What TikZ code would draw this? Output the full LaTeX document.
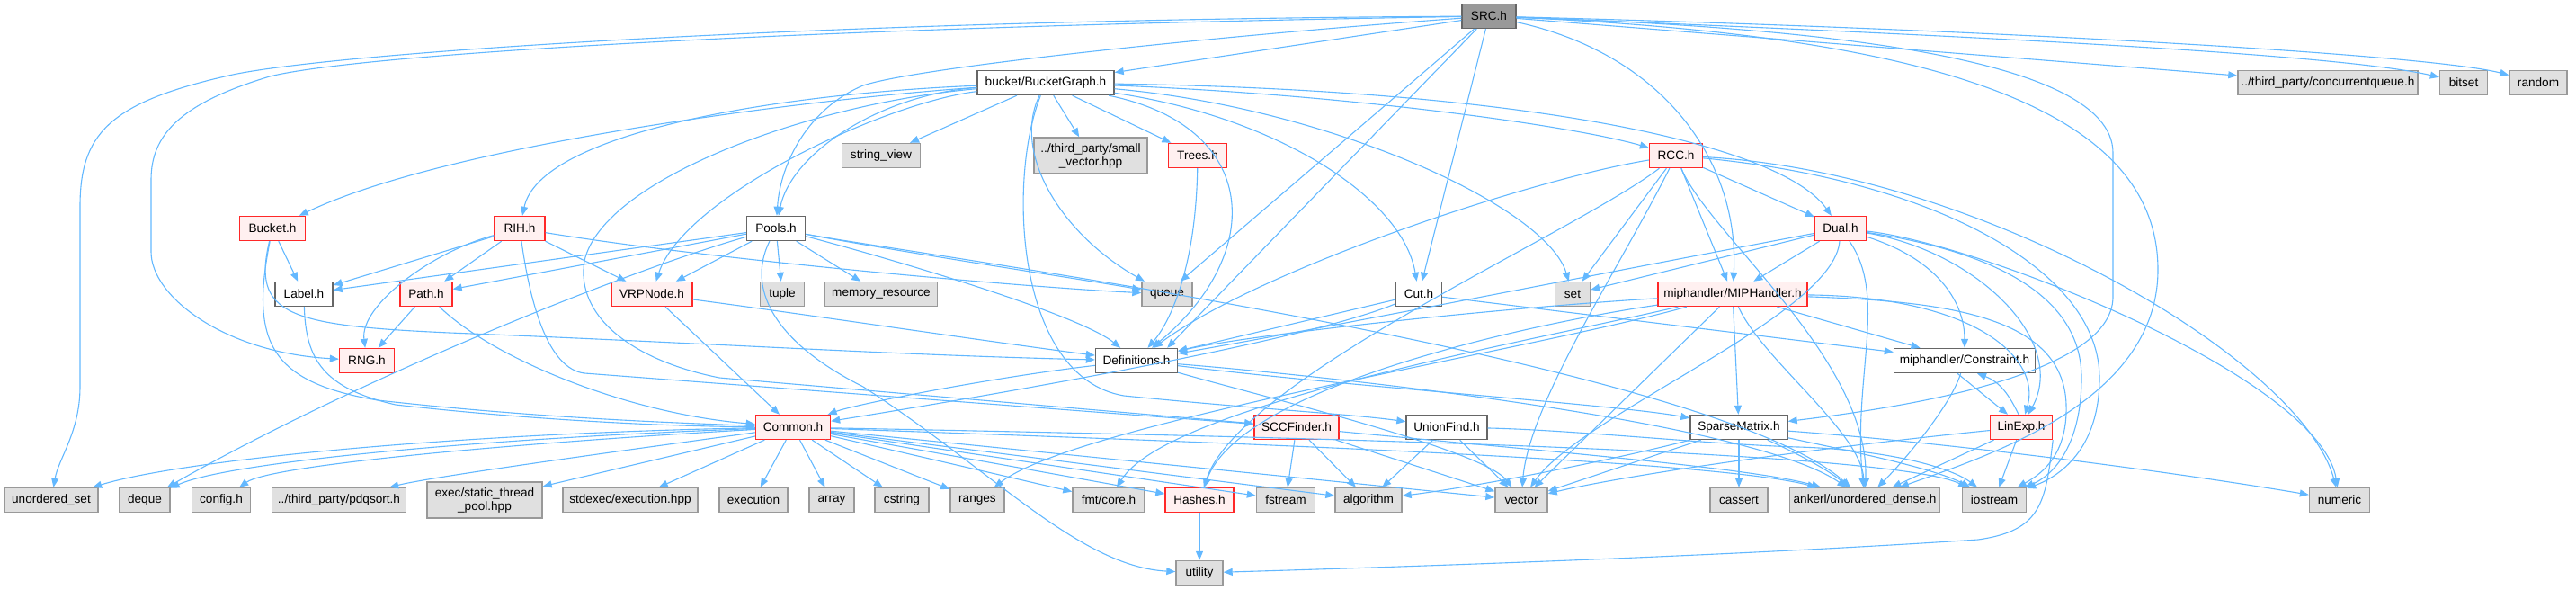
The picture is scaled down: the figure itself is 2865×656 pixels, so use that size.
\documentclass[tikz,border=0pt]{standalone}
\usepackage{fontspec}
\setmainfont{Liberation Sans}
\usetikzlibrary{arrows.meta}
\definecolor{edgeblue}{RGB}{99,184,255}
\definecolor{grfill}{RGB}{224,224,224}
\definecolor{grdraw}{RGB}{153,153,153}
\definecolor{rdfill}{RGB}{255,240,240}
\definecolor{rddraw}{RGB}{255,40,40}
\definecolor{whdraw}{RGB}{102,102,102}
\definecolor{srcfill}{RGB}{153,153,153}
\newcommand\fs{\fontsize{13.6}{15}\selectfont}
\tikzset{
 base/.style={rectangle, inner sep=0pt, minimum height=27pt, line width=1.4pt, font=\fs, align=center},
 gr/.style={base, fill=grfill, draw=grdraw},
 rd/.style={base, fill=rdfill, draw=rddraw},
 wh/.style={base, fill=white, draw=whdraw},
 srcbox/.style={base, fill=srcfill, draw=whdraw},
 e/.style={draw=edgeblue, line width=1.1pt, -{Triangle[length=10pt,width=8pt]}}
}
\begin{document}
\begin{tikzpicture}[x=1pt,y=-1pt]
\useasboundingbox (0,0) rectangle (2865,656);
% nodes
\node[srcbox, minimum width=60pt] (SRC) at (1656,18) {SRC.h};
\node[wh, minimum width=152pt] (BG) at (1163,92) {bucket/BucketGraph.h};
\node[gr, minimum width=200pt] (CQ) at (2589,92) {../third\_party/concurrentqueue.h};
\node[gr, minimum width=53pt] (bitset) at (2740,92) {bitset};
\node[gr, minimum width=64pt] (random) at (2823,92) {random};
\node[gr, minimum width=87pt] (stringview) at (980,173) {string\_view};
\node[gr, minimum width=126pt, minimum height=40pt] (smallvec) at (1213,173) {../third\_party/small\\\_vector.hpp};
\node[rd, minimum width=65pt] (Trees) at (1332,173) {Trees.h};
\node[rd, minimum width=59pt] (RCC) at (1864,173) {RCC.h};
\node[rd, minimum width=73pt] (Bucket) at (303,254) {Bucket.h};
\node[rd, minimum width=56pt] (RIH) at (578,254) {RIH.h};
\node[wh, minimum width=65pt] (Pools) at (863,254) {Pools.h};
\node[rd, minimum width=57pt] (Dual) at (2047,254) {Dual.h};
\node[wh, minimum width=64pt] (Label) at (338,327) {Label.h};
\node[rd, minimum width=58pt] (Path) at (474,327) {Path.h};
\node[rd, minimum width=90pt] (VRPNode) at (725,327) {VRPNode.h};
\node[gr, minimum width=49pt] (tuple) at (870,327) {tuple};
\node[gr, minimum width=125pt] (memres) at (980,327) {memory\_resource};
\node[gr, minimum width=56pt] (queue) at (1298,327) {queue};
\node[wh, minimum width=51pt] (Cut) at (1578,327) {Cut.h};
\node[gr, minimum width=39pt] (set) at (1749,327) {set};
\node[rd, minimum width=166pt] (MIP) at (1927,327) {miphandler/MIPHandler.h};
\node[rd, minimum width=61pt] (RNG) at (408,401) {RNG.h};
\node[wh, minimum width=91pt] (Defs) at (1264,401) {Definitions.h};
\node[wh, minimum width=157pt] (Constraint) at (2185,401) {miphandler/Constraint.h};
\node[rd, minimum width=83pt] (Common) at (882,475) {Common.h};
\node[rd, minimum width=94pt] (SCC) at (1442,475) {SCCFinder.h};
\node[wh, minimum width=90pt] (UF) at (1609,475) {UnionFind.h};
\node[wh, minimum width=108pt] (Sparse) at (1934,475) {SparseMatrix.h};
\node[rd, minimum width=69pt] (LinExp) at (2248,475) {LinExp.h};
\node[gr, minimum width=104pt] (uset) at (57,556) {unordered\_set};
\node[gr, minimum width=56pt] (deque) at (161,556) {deque};
\node[gr, minimum width=65pt] (config) at (246,556) {config.h};
\node[gr, minimum width=149pt] (pdqsort) at (377,556) {../third\_party/pdqsort.h};
\node[gr, minimum width=128pt, minimum height=40pt] (stp) at (539,556) {exec/static\_thread\\\_pool.hpp};
\node[gr, minimum width=150pt] (stdexec) at (701,556) {stdexec/execution.hpp};
\node[gr, minimum width=76pt] (execution) at (838,556) {execution};
\node[gr, minimum width=50pt] (array) at (925,556) {array};
\node[gr, minimum width=60pt] (cstring) at (1003,556) {cstring};
\node[gr, minimum width=60pt] (ranges) at (1087,556) {ranges};
\node[gr, minimum width=80pt] (fmt) at (1233,556) {fmt/core.h};
\node[rd, minimum width=76pt] (Hashes) at (1334,556) {Hashes.h};
\node[gr, minimum width=65pt] (fstream) at (1430,556) {fstream};
\node[gr, minimum width=74pt] (algorithm) at (1522,556) {algorithm};
\node[gr, minimum width=58pt] (vector) at (1692,556) {vector};
\node[gr, minimum width=64pt] (cassert) at (1934,556) {cassert};
\node[gr, minimum width=167pt] (ankerl) at (2074,556) {ankerl/unordered\_dense.h};
\node[gr, minimum width=71pt] (iostream) at (2218,556) {iostream};
\node[gr, minimum width=67pt] (numeric) at (2602,556) {numeric};
\node[gr, minimum width=52pt] (utility) at (1334,637) {utility};
% SRC edges
\draw[e] (SRC) -- (BG);
\draw[e] (SRC) -- (CQ);
\draw[e] (SRC) .. controls (2200,40) and (2600,60) .. (bitset);
\draw[e] (SRC) .. controls (2200,32) and (2700,60) .. (random);
\draw[e] (SRC) .. controls (900,22) and (350,60) .. (250,85) .. controls (120,115) and (89,150) .. (89,230) -- (89,430) .. controls (89,480) and (65,510) .. (uset);
\draw[e] (SRC) .. controls (900,30) and (400,60) .. (300,85) .. controls (200,115) and (168,150) .. (168,200) -- (168,280) .. controls (168,330) and (250,392) .. (RNG);
\draw[e] (SRC) .. controls (1350,40) and (1020,75) .. (960,95) .. controls (900,120) and (868,180) .. (Pools);
\draw[e] (SRC) -- ([xshift=-14pt]queue.north east);
\draw[e] (SRC) -- ([xshift=-12pt]Defs.north east);
\draw[e] (SRC) -- (Cut);
\draw[e] (SRC) .. controls (1850,60) and (1935,180) .. (MIP);
\draw[e] (SRC) .. controls (2000,30) and (2350,60) .. (2350,170) -- (2350,330) .. controls (2350,420) and (2100,455) .. (Sparse);
\draw[e] (SRC) .. controls (2150,40) and (2400,120) .. (2400,300) .. controls (2400,450) and (2200,510) .. (ankerl);
% BucketGraph edges
\draw[e] (BG) .. controls (900,110) and (500,160) .. (Bucket);
\draw[e] (BG) .. controls (850,105) and (600,150) .. (RIH);
\draw[e] (BG) .. controls (980,105) and (880,170) .. (Pools);
\draw[e] (BG) .. controls (980,115) and (760,220) .. (VRPNode);
\draw[e] (BG) -- (stringview);
\draw[e] (BG) -- (smallvec);
\draw[e] (BG) -- (Trees);
\draw[e] (BG) .. controls (1125,170) and (1180,260) .. (queue);
\draw[e] (BG) .. controls (1120,200) and (1130,420) .. (1250,440) .. controls (1400,455) and (1500,460) .. (UF);
\draw[e] (BG) .. controls (1400,140) and (1410,280) .. (Defs);
\draw[e] (BG) .. controls (1420,130) and (1560,220) .. (Cut);
\draw[e] (BG) .. controls (1480,120) and (1720,230) .. (set);
\draw[e] (BG) .. controls (1500,105) and (1750,140) .. (RCC);
\draw[e] (BG) .. controls (1700,100) and (1980,160) .. (Dual);
\draw[e] (BG) .. controls (900,115) and (670,200) .. (650,290) .. controls (640,350) and (700,400) .. (800,420) -- (SCC);
% RCC edges
\draw[e] (RCC) .. controls (1700,200) and (1400,300) .. (Defs);
\draw[e] (RCC) -- (set);
\draw[e] (RCC) -- (MIP);
\draw[e] (RCC) -- (Dual);
\draw[e] (RCC) .. controls (1750,260) and (1380,420) .. (Hashes);
\draw[e] (RCC) .. controls (1800,300) and (1700,450) .. (vector);
\draw[e] (RCC) .. controls (1900,260) and (2080,400) .. (ankerl);
\draw[e] (RCC) .. controls (2150,200) and (2335,300) .. (2335,420) .. controls (2335,500) and (2290,530) .. (iostream);
\draw[e] (RCC) .. controls (2200,190) and (2560,400) .. (numeric);
% Dual edges
\draw[e] (Dual) -- (set);
\draw[e] (Dual) -- (MIP);
\draw[e] (Dual) .. controls (2160,290) and (2185,340) .. (Constraint);
\draw[e] (Dual) .. controls (2200,280) and (2300,380) .. (LinExp);
\draw[e] (Dual) .. controls (1800,300) and (1500,360) .. (Defs);
\draw[e] (Dual) .. controls (2040,350) and (1760,460) .. (vector);
\draw[e] (Dual) .. controls (2100,330) and (2060,420) .. (ankerl);
\draw[e] (Dual) .. controls (2220,280) and (2315,330) .. (2315,420) .. controls (2315,500) and (2280,530) .. (iostream);
\draw[e] (Dual) .. controls (2200,270) and (2580,420) .. (numeric);
% MIPHandler edges
\draw[e] (MIP) .. controls (1700,340) and (1400,370) .. (Defs);
\draw[e] (MIP) -- (Constraint);
\draw[e] (MIP) -- (Sparse);
\draw[e] (MIP) .. controls (2200,330) and (2270,400) .. (LinExp);
\draw[e] (MIP) -- (vector);
\draw[e] (MIP) .. controls (1960,400) and (2070,480) .. (ankerl);
\draw[e] (MIP) .. controls (2160,335) and (2295,350) .. (2298,450) .. controls (2300,510) and (2265,530) .. (iostream);
\draw[e] (MIP) .. controls (1700,380) and (1300,450) .. (fmt);
\draw[e] (MIP) .. controls (1700,390) and (1200,470) .. (ranges);
\draw[e] (MIP) .. controls (1700,360) and (1380,430) .. (Hashes);
% Cut edges
\draw[e] (Cut) -- (Defs);
\draw[e] (Cut) .. controls (1450,380) and (1100,440) .. (Common);
\draw[e] (Cut) -- (Constraint);
% Constraint / LinExp
\draw[e] ([xshift=-8pt]Constraint.south) -- ([xshift=-15pt]LinExp.north);
\draw[e] ([xshift=-3pt]LinExp.north) .. controls (2235,440) and (2225,425) .. ([xshift=14pt]Constraint.south);
\draw[e] (Constraint) .. controls (2170,450) and (2120,510) .. (ankerl);
\draw[e] (LinExp) -- (ankerl);
\draw[e] (LinExp) -- (iostream);
\draw[e] (LinExp) .. controls (2000,500) and (1800,530) .. (vector);
\draw[e] (LinExp.south east) .. controls (2275,560) and (2270,590) .. (2200,600) .. controls (1900,620) and (1500,632) .. (utility);
% SparseMatrix
\draw[e] (Sparse) -- (cassert);
\draw[e] (Sparse) -- (vector);
\draw[e] (Sparse) .. controls (1800,510) and (1650,540) .. (algorithm);
\draw[e] (Sparse) .. controls (2050,500) and (2150,520) .. (iostream);
\draw[e] (Sparse) .. controls (2200,495) and (2450,530) .. (numeric);
\draw[e] (Sparse) .. controls (1990,500) and (2030,520) .. (ankerl);
% SCCFinder, UnionFind
\draw[e] (SCC) -- (fstream);
\draw[e] (SCC) -- (algorithm);
\draw[e] (SCC) -- (vector);
\draw[e] (SCC) .. controls (1700,500) and (1950,520) .. (ankerl);
\draw[e] (UF) -- (algorithm);
\draw[e] (UF) -- (vector);
\draw[e] (UF) .. controls (1750,478) and (1900,494) .. (2000,497) .. controls (2100,500) and (2170,520) .. (iostream);
% Definitions
\draw[e] (Defs) .. controls (1100,420) and (950,450) .. (Common);
\draw[e] (Defs) .. controls (1500,430) and (1800,450) .. (Sparse);
\draw[e] (Defs) .. controls (1400,440) and (1650,500) .. (vector);
\draw[e] (Defs) .. controls (1500,420) and (1950,470) .. (ankerl);
% Trees
\draw[e] (Trees) .. controls (1330,300) and (1300,360) .. (Defs);
% Pools
\draw[e] (Pools) -- (Label);
\draw[e] (Pools) -- (Path);
\draw[e] (Pools) -- (VRPNode);
\draw[e] (Pools) -- (tuple);
\draw[e] (Pools) -- (memres);
\draw[e] (Pools) .. controls (1000,280) and (1200,310) .. (queue);
\draw[e] (Pools) .. controls (1000,290) and (1200,350) .. (Defs);
\draw[e] (Pools) .. controls (700,300) and (400,420) .. (deque);
\draw[e] (Pools) .. controls (1000,280) and (1900,400) .. (ankerl);
\draw[e] (Pools) .. controls (830,320) and (860,380) .. (960,430) .. controls (1100,520) and (1200,630) .. (utility);
% RIH
\draw[e] (RIH) -- (Label);
\draw[e] (RIH) -- (Path);
\draw[e] (RIH) -- (VRPNode);
\draw[e] (RIH) .. controls (480,280) and (400,340) .. (RNG);
\draw[e] (RIH) .. controls (800,290) and (1150,320) .. (queue);
\draw[e] (RIH) .. controls (590,340) and (610,410) .. (650,415) -- (SCC);
% Bucket
\draw[e] (Bucket) -- (Label);
\draw[e] (Bucket) .. controls (278,380) and (300,425) .. (420,445) .. controls (600,465) and (750,470) .. (Common);
\draw[e] (Bucket) .. controls (280,350) and (320,362) .. (500,370) .. controls (800,382) and (1000,395) .. (Defs);
% Label, Path, VRPNode, Hashes
\draw[e] (Label) .. controls (340,400) and (360,432) .. (440,450) .. controls (600,468) and (750,474) .. (Common);
\draw[e] (Path) -- (RNG);
\draw[e] (Path) .. controls (550,400) and (700,460) .. (Common);
\draw[e] (VRPNode) -- (Common);
\draw[e] (VRPNode) .. controls (900,350) and (1100,380) .. (Defs);
\draw[e] (Hashes) -- (utility);
% Common
\draw[e] (Common) .. controls (500,482) and (200,512) .. (uset);
\draw[e] (Common) .. controls (520,488) and (250,515) .. (deque);
\draw[e] (Common) .. controls (550,494) and (300,518) .. (config);
\draw[e] (Common) .. controls (700,500) and (480,530) .. (pdqsort);
\draw[e] (Common) -- (stp);
\draw[e] (Common) -- (stdexec);
\draw[e] (Common) -- (execution);
\draw[e] (Common) -- (array);
\draw[e] (Common) -- (cstring);
\draw[e] (Common) -- (ranges);
\draw[e] (Common) -- (fmt);
\draw[e] (Common) -- (Hashes);
\draw[e] (Common) -- (fstream);
\draw[e] (Common) -- (algorithm);
\draw[e] (Common) -- (vector);
\draw[e] (Common) .. controls (1300,490) and (1900,510) .. (ankerl);
\draw[e] (Common) .. controls (1400,485) and (2100,500) .. (iostream);
\end{tikzpicture}
\end{document}
